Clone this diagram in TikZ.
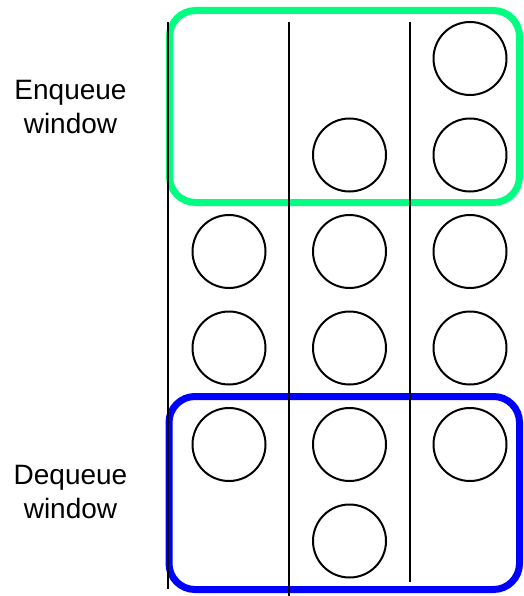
\documentclass[tikz,border=0pt]{standalone}
\usepackage{fontspec}
\setmainfont{Liberation Sans}
\begin{document}
\begin{tikzpicture}[x=1pt,y=-1pt,
  slot/.style={circle,draw=black,line width=2pt,minimum size=73pt,inner sep=0pt},
  lane/.style={draw=black,line width=2pt},
  enqbox/.style={draw={rgb,255:red,0;green,255;blue,128},line width=7pt,rounded corners=26pt},
  deqbox/.style={draw={rgb,255:red,0;green,0;blue,255},line width=7pt,rounded corners=26pt},
  lbl/.style={font=\fontsize{28}{34}\selectfont,anchor=base,inner sep=0pt}]
\useasboundingbox (0,0) rectangle (523,596);
% windows
\draw[enqbox] (169.5,10.5) rectangle (519.5,202.5);
\draw[deqbox] (169,396.5) rectangle (519.5,589.5);
% circles
\node[slot] (c13) at (470,58.5) {};
\node[slot] (c22) at (349.5,155) {};
\node[slot] (c23) at (470,155) {};
\node[slot] (c31) at (229,251.5) {};
\node[slot] (c32) at (349.5,251.5) {};
\node[slot] (c33) at (470,251.5) {};
\node[slot] (c41) at (229,348) {};
\node[slot] (c42) at (349.5,348) {};
\node[slot] (c43) at (470,348) {};
\node[slot] (c51) at (229,444.5) {};
\node[slot] (c52) at (349.5,444.5) {};
\node[slot] (c53) at (470,444.5) {};
\node[slot] (c62) at (349.5,541) {};
% lanes
\coordinate (l1t) at (168,22.5); \coordinate (l1b) at (168,589);
\coordinate (l2t) at (289,22.5); \coordinate (l2b) at (289,596);
\coordinate (l3t) at (410,22.5); \coordinate (l3b) at (410,582);
\draw[lane] (l1t) -- (l1b);
\draw[lane] (l2t) -- (l2b);
\draw[lane] (l3t) -- (l3b);
% labels
\node[lbl] (enq1) at (70.5,99.3) {Enqueue};
\node[lbl] (enq2) at (70.5,133.3) {window};
\node[lbl] (deq1) at (70.5,484.3) {Dequeue};
\node[lbl] (deq2) at (70.5,518.3) {window};
\end{tikzpicture}
\end{document}
